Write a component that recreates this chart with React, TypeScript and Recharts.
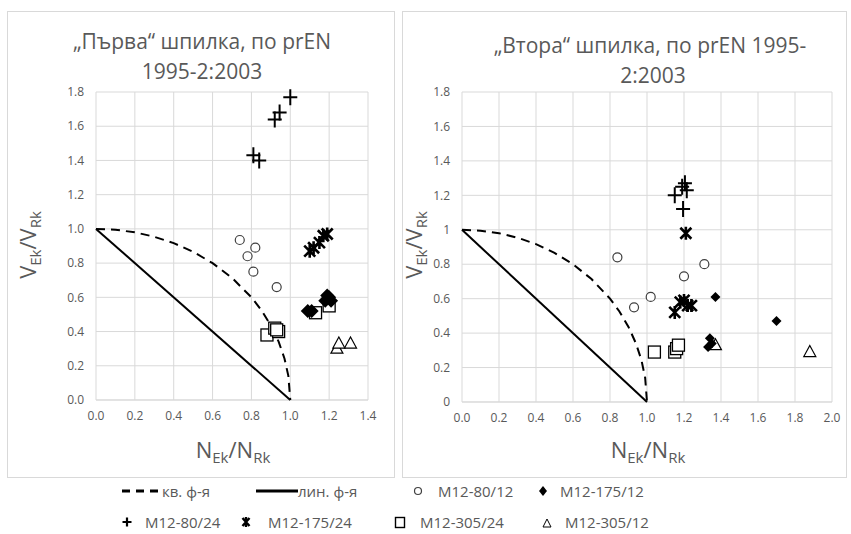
import React from "react";
import { ScatterChart, Scatter, XAxis, YAxis, CartesianGrid } from "recharts";

// ---------- data ----------
const quadCurve = [
  { x: 0, y: 1 }, { x: 0.1, y: 0.995 }, { x: 0.2, y: 0.98 }, { x: 0.3, y: 0.954 },
  { x: 0.4, y: 0.917 }, { x: 0.5, y: 0.866 }, { x: 0.6, y: 0.8 }, { x: 0.7, y: 0.714 },
  { x: 0.8, y: 0.6 }, { x: 0.85, y: 0.527 }, { x: 0.9, y: 0.436 }, { x: 0.94, y: 0.341 },
  { x: 0.97, y: 0.243 }, { x: 0.99, y: 0.141 }, { x: 1.0, y: 0 },
];
const linCurve = [{ x: 0, y: 1 }, { x: 1, y: 0 }];

// left panel ("Първа")
const L_m80_12 = [{ x: 0.74, y: 0.935 }, { x: 0.82, y: 0.89 }, { x: 0.78, y: 0.84 }, { x: 0.81, y: 0.75 }, { x: 0.93, y: 0.66 }];
const L_m175_12 = [{ x: 1.09, y: 0.52 }, { x: 1.11, y: 0.52 }, { x: 1.18, y: 0.58 }, { x: 1.19, y: 0.61 }, { x: 1.21, y: 0.58 }, { x: 1.2, y: 0.6 }];
const L_m80_24 = [{ x: 1.0, y: 1.77 }, { x: 0.945, y: 1.68 }, { x: 0.92, y: 1.64 }, { x: 0.81, y: 1.43 }, { x: 0.84, y: 1.4 }];
const L_m175_24 = [{ x: 1.1, y: 0.87 }, { x: 1.12, y: 0.89 }, { x: 1.15, y: 0.92 }, { x: 1.17, y: 0.96 }, { x: 1.19, y: 0.97 }];
const L_m305_24 = [{ x: 0.88, y: 0.38 }, { x: 0.92, y: 0.42 }, { x: 0.94, y: 0.4 }, { x: 0.93, y: 0.41 }, { x: 1.13, y: 0.51 }, { x: 1.2, y: 0.55 }];
const L_m305_12 = [{ x: 1.24, y: 0.3 }, { x: 1.25, y: 0.33 }, { x: 1.31, y: 0.33 }];

// right panel ("Втора")
const R_m80_12 = [{ x: 0.84, y: 0.84 }, { x: 0.93, y: 0.55 }, { x: 1.02, y: 0.61 }, { x: 1.2, y: 0.73 }, { x: 1.31, y: 0.8 }];
const R_m175_12 = [{ x: 1.37, y: 0.61 }, { x: 1.7, y: 0.47 }, { x: 1.34, y: 0.37 }, { x: 1.33, y: 0.32 }, { x: 1.35, y: 0.34 }];
const R_m80_24 = [{ x: 1.15, y: 1.2 }, { x: 1.19, y: 1.25 }, { x: 1.205, y: 1.27 }, { x: 1.215, y: 1.23 }, { x: 1.195, y: 1.12 }];
const R_m175_24 = [{ x: 1.15, y: 0.52 }, { x: 1.18, y: 0.58 }, { x: 1.2, y: 0.59 }, { x: 1.22, y: 0.56 }, { x: 1.24, y: 0.56 }, { x: 1.21, y: 0.98 }];
const R_m305_24 = [{ x: 1.04, y: 0.29 }, { x: 1.15, y: 0.29 }, { x: 1.16, y: 0.31 }, { x: 1.17, y: 0.33 }];
const R_m305_12 = [{ x: 1.37, y: 0.33 }, { x: 1.88, y: 0.29 }];

const leftXTicks = [0, 0.2, 0.4, 0.6, 0.8, 1.0, 1.2, 1.4];
const rightXTicks = [0, 0.2, 0.4, 0.6, 0.8, 1.0, 1.2, 1.4, 1.6, 1.8, 2.0];
const yTicks = [0, 0.2, 0.4, 0.6, 0.8, 1.0, 1.2, 1.4, 1.6, 1.8];

const leftTitle = ["„Първа“ шпилка, по prEN", "1995-2:2003"];
const rightTitle = ["„Втора“ шпилка, по prEN 1995-", "2:2003"];
const legendRow1 = ["кв. ф-я", "лин. ф-я", "M12-80/12", "M12-175/12"];
const legendRow2 = ["M12-80/24", "M12-175/24", "M12-305/24", "M12-305/12"];

// ---------- styles ----------
const FONT = "'Open Sans', 'Noto Sans', sans-serif";
const GRAY = "#595959";
const GRID = "#d9d9d9";

// ---------- marker shapes ----------
const Empty = () => <g />;
const CircleM = (p: any) => <circle cx={p.cx} cy={p.cy} r={4.5} fill="#fff" stroke="#404040" strokeWidth={1.2} />;
const diamondM = (s: number) => (p: any) => (
  <path d={`M${p.cx},${p.cy - s}L${p.cx + s},${p.cy}L${p.cx},${p.cy + s}L${p.cx - s},${p.cy}Z`} fill="#000" />
);
const PlusM = (p: any) => (
  <path d={`M${p.cx - 7},${p.cy}H${p.cx + 7}M${p.cx},${p.cy - 8}V${p.cy + 8}`} stroke="#000" strokeWidth={2} fill="none" />
);
const StarM = (p: any) => (
  <path
    d={`M${p.cx - 5.5},${p.cy - 5.5}L${p.cx + 5.5},${p.cy + 5.5}M${p.cx + 5.5},${p.cy - 5.5}L${p.cx - 5.5},${p.cy + 5.5}M${p.cx},${p.cy - 6.5}V${p.cy + 6.5}`}
    stroke="#000" strokeWidth={2.6} fill="none"
  />
);
const SquareM = (p: any) => <rect x={p.cx - 6} y={p.cy - 6} width={12} height={12} fill="#fff" stroke="#000" strokeWidth={1.3} />;
const TriM = (p: any) => (
  <path d={`M${p.cx},${p.cy - 6.5}L${p.cx + 6},${p.cy + 4.5}L${p.cx - 6},${p.cy + 4.5}Z`} fill="#fff" stroke="#000" strokeWidth={1.2} />
);

const tickStyle = { fill: GRAY, fontSize: 12, fontFamily: FONT };

function Panel(props: any) {
  const { width, height, margin, xTicks, xMax, yFmt, yWidth, s } = props;
  return (
    <ScatterChart width={width} height={height} margin={margin}>
      <CartesianGrid stroke={GRID} strokeWidth={1} />
      <XAxis
        type="number" dataKey="x" domain={[0, xMax]} ticks={xTicks} tickFormatter={(v: number) => v.toFixed(1)}
        tick={tickStyle} tickSize={0} tickMargin={11} axisLine={{ stroke: GRID }} height={25} interval={0}
      />
      <YAxis
        type="number" dataKey="y" domain={[0, 1.8]} ticks={yTicks} tickFormatter={yFmt}
        tick={tickStyle} tickSize={0} tickMargin={12} axisLine={false} width={yWidth} interval={0}
      />
      <Scatter data={quadCurve} line={{ stroke: "#000", strokeWidth: 2, strokeDasharray: "9 6" }} shape={Empty} isAnimationActive={false} />
      <Scatter data={linCurve} line={{ stroke: "#000", strokeWidth: 2 }} shape={Empty} isAnimationActive={false} />
      <Scatter data={s.m80_12} shape={CircleM} isAnimationActive={false} />
      <Scatter data={s.m305_24} shape={SquareM} isAnimationActive={false} />
      <Scatter data={s.m305_12} shape={TriM} isAnimationActive={false} />
      <Scatter data={s.m175_12} shape={diamondM(s.dsize)} isAnimationActive={false} />
      <Scatter data={s.m80_24} shape={PlusM} isAnimationActive={false} />
      <Scatter data={s.m175_24} shape={StarM} isAnimationActive={false} />
    </ScatterChart>
  );
}

function AxisTitle({ x, y, a, b, rotate }: any) {
  return (
    <text x={x} y={y} textAnchor="middle" fill={GRAY} fontFamily={FONT} transform={rotate ? `rotate(-90 ${x} ${y})` : undefined}>
      <tspan fontSize={22}>{a}</tspan>
      <tspan fontSize={15} dy={5}>Ek</tspan>
      <tspan fontSize={22} dy={-5}>/{b}</tspan>
      <tspan fontSize={15} dy={5}>Rk</tspan>
    </text>
  );
}

function LegendIcon({ kind }: any) {
  let el: any = null;
  if (kind === "dash") el = <line x1={0} y1={9} x2={40} y2={9} stroke="#000" strokeWidth={3} strokeDasharray="8 6" />;
  else if (kind === "line") el = <line x1={0} y1={9} x2={42} y2={9} stroke="#000" strokeWidth={3} />;
  else if (kind === "circle") el = <circle cx={8} cy={9} r={3.5} fill="#fff" stroke="#404040" strokeWidth={1.2} />;
  else if (kind === "diamond") el = <path d="M8,4L12,9L8,14L4,9Z" fill="#000" />;
  else if (kind === "plus") el = <path d="M3.5,9H12.5M8,4.5V13.5" stroke="#000" strokeWidth={2.2} />;
  else if (kind === "star") el = <path d="M4.5,5L11.5,13M11.5,5L4.5,13M8,4V14" stroke="#000" strokeWidth={2.4} />;
  else if (kind === "square") el = <rect x={3.5} y={4.5} width={9} height={10} fill="#fff" stroke="#000" strokeWidth={1.4} />;
  else if (kind === "tri") el = <path d="M8,6L12,14L4,14Z" fill="#fff" stroke="#000" strokeWidth={1} />;
  const w = kind === "dash" || kind === "line" ? 42 : 16;
  return <svg width={w} height={18} style={{ display: "block" }}>{el}</svg>;
}

function LegendItem({ kind, label, iconX, textX, y }: any) {
  const w = kind === "dash" || kind === "line" ? 42 : 16;
  return (
    <>
      <div style={{ position: "absolute", left: iconX, top: y - 9, width: w, height: 18 }}>
        <LegendIcon kind={kind} />
      </div>
      <div style={{ position: "absolute", left: textX, top: y - 11, fontSize: 15, lineHeight: "22px", fontFamily: FONT, color: GRAY, whiteSpace: "nowrap" }}>
        {label}
      </div>
    </>
  );
}

export default function App() {
  const leftSeries = { m80_12: L_m80_12, m175_12: L_m175_12, m80_24: L_m80_24, m175_24: L_m175_24, m305_24: L_m305_24, m305_12: L_m305_12, dsize: 7 };
  const rightSeries = { m80_12: R_m80_12, m175_12: R_m175_12, m80_24: R_m80_24, m175_24: R_m175_24, m305_24: R_m305_24, m305_12: R_m305_12, dsize: 5 };
  return (
    <div style={{ position: "absolute", left: 0, top: 0, width: 851, height: 534, background: "#fff", overflow: "hidden" }}>
      <div style={{ position: "absolute", left: 7, top: 11, width: 388, height: 467, border: `1px solid ${GRID}`, boxSizing: "border-box" }} />
      <div style={{ position: "absolute", left: 402, top: 11, width: 445, height: 467, border: `1px solid ${GRID}`, boxSizing: "border-box" }} />

      <div style={{ position: "absolute", left: 7, top: 11 }}>
        <Panel
          width={389} height={468}
          margin={{ top: 81, right: 28, bottom: 54, left: 49 }}
          xTicks={leftXTicks} xMax={1.4} yWidth={40}
          yFmt={(v: number) => v.toFixed(1)}
          s={leftSeries}
        />
      </div>
      <div style={{ position: "absolute", left: 402, top: 11 }}>
        <Panel
          width={445} height={468}
          margin={{ top: 81, right: 15, bottom: 52, left: 30 }}
          xTicks={rightXTicks} xMax={2.0} yWidth={30}
          yFmt={(v: number) => String(+v.toFixed(1))}
          s={rightSeries}
        />
      </div>

      <svg width={851} height={534} style={{ position: "absolute", left: 0, top: 0, pointerEvents: "none" }}>
        <text x={202} y={49} textAnchor="middle" fill={GRAY} fontFamily={FONT} fontSize={21}>{leftTitle[0]}</text>
        <text x={202} y={79} textAnchor="middle" fill={GRAY} fontFamily={FONT} fontSize={21}>{leftTitle[1]}</text>
        <text x={650} y={53} textAnchor="middle" fill={GRAY} fontFamily={FONT} fontSize={21}>{rightTitle[0]}</text>
        <text x={653} y={83} textAnchor="middle" fill={GRAY} fontFamily={FONT} fontSize={21}>{rightTitle[1]}</text>
        <AxisTitle x={233} y={458} a="N" b="N" />
        <AxisTitle x={648} y={458} a="N" b="N" />
        <AxisTitle x={36} y={245} a="V" b="V" rotate />
        <AxisTitle x={422} y={245} a="V" b="V" rotate />
      </svg>

      <LegendItem kind="dash" label={legendRow1[0]} iconX={122} textX={162} y={491} />
      <LegendItem kind="line" label={legendRow1[1]} iconX={256} textX={298} y={491} />
      <LegendItem kind="circle" label={legendRow1[2]} iconX={410} textX={438} y={491} />
      <LegendItem kind="diamond" label={legendRow1[3]} iconX={535} textX={560} y={491} />
      <LegendItem kind="plus" label={legendRow2[0]} iconX={119} textX={145} y={522} />
      <LegendItem kind="star" label={legendRow2[1]} iconX={238} textX={268} y={522} />
      <LegendItem kind="square" label={legendRow2[2]} iconX={392} textX={420} y={522} />
      <LegendItem kind="tri" label={legendRow2[3]} iconX={539} textX={565} y={522} />
    </div>
  );
}
